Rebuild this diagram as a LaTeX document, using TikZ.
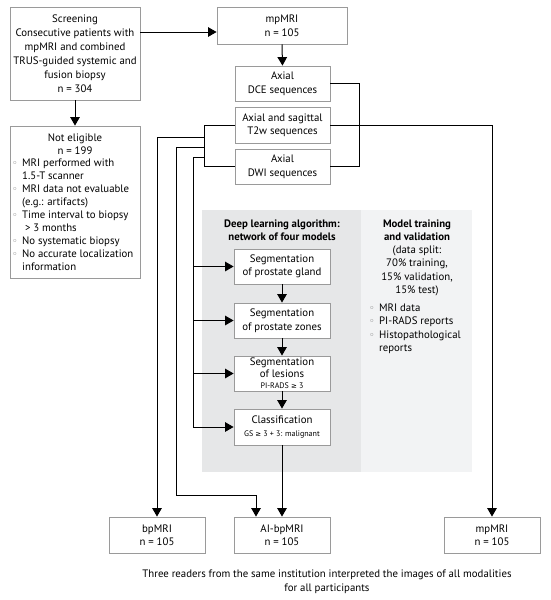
\documentclass[tikz,border=0pt]{standalone}
\usepackage{fontspec}
\setmainfont{PT Sans}
\newfontfamily\djf{DejaVu Sans}
\usetikzlibrary{arrows.meta}
\definecolor{boxgray}{HTML}{9A9A9A}
\definecolor{paneldark}{HTML}{E6E7E8}
\definecolor{panellight}{HTML}{F2F3F4}
\definecolor{bulgray}{HTML}{6E6E6E}
\newcommand\myfs{\fontsize{10.8}{13.5}\selectfont}
\newcommand\mysmall{\fontsize{8}{9}\selectfont}
\newcommand\bul{\makebox[10pt][l]{\textcolor{bulgray}{\djf\fontsize{9.5}{9}\selectfont ◦}}}
\newcommand\ind{\hspace*{10pt}}
\newcommand\mygeq{{\djf\fontsize{7}{9}\selectfont ≥}}
\begin{document}
\begin{tikzpicture}[x=1pt,y=-1pt,
  box/.style={draw=boxgray,line width=0.8pt,fill=white,align=center,inner sep=0pt,font=\myfs},
  txt/.style={align=center,inner sep=0pt,font=\myfs},
  conn/.style={draw=black,line width=1pt},
  arr/.style={-{Triangle[width=9.5pt,length=8.5pt]}}]
\useasboundingbox (0,0) rectangle (550,600);
% panels
\fill[paneldark] (202,210) rectangle (361,472);
\fill[panellight] (361,210) rectangle (472,472);
% top boxes
\node[box,minimum width=130pt,minimum height=93pt,font=\fontsize{10.8}{14}\selectfont] (scr) at (75,53.5)
  {Screening\\Consecutive patients with\\mpMRI and combined\\TRUS-guided systemic and\\fusion biopsy\\n = 304};
\node[box,minimum width=130pt,minimum height=37pt] (mp) at (282,25.5) {mpMRI\\n = 105};
\node[box,minimum width=95pt,minimum height=35pt] (dce) at (282.5,83.5) {Axial\\DCE sequences};
\node[box,minimum width=95pt,minimum height=36pt] (t2) at (282.5,125) {Axial and sagittal\\T2w sequences};
\node[box,minimum width=95pt,minimum height=35pt] (dwi) at (282.5,166.5) {Axial\\DWI sequences};
% not eligible
\node[box,minimum width=130pt,minimum height=152pt] (ne) at (75,202) {};
\node[txt] (net) at (75,144) {Not eligible\\n = 199};
\node[txt,anchor=north west,align=left,font=\fontsize{10.8}{13}\selectfont] (nel) at (12,158.5)
  {\bul MRI performed with\\\ind 1.5-T scanner\\\bul MRI data not evaluable\\\ind (e.g.: artifacts)\\
   \bul Time interval to biopsy\\\ind\ {>} 3 months\\\bul No systematic biopsy\\
   \bul No accurate localization\\\ind information};
% panel texts
\node[txt,font=\bfseries\myfs] (dlt) at (282,230) {Deep learning algorithm:\\network of four models};
\node[txt,font=\bfseries\myfs] (mtt) at (417,230) {Model training\\and validation};
\node[txt] (mts) at (417,271) {(data split:\\70\% training,\\15\% validation,\\15\% test)};
\node[txt,anchor=north west,align=left] (mtl) at (369,303.5)
  {\bul MRI data\\\bul PI-RADS reports\\\bul Histopathological\\\ind reports};
% model boxes
\node[box,minimum width=96pt,minimum height=35pt] (gl) at (282,266.5) {Segmentation\\of prostate gland};
\node[box,minimum width=96pt,minimum height=35pt] (zo) at (282,320.5) {Segmentation\\of prostate zones};
\node[box,minimum width=96pt,minimum height=35pt,font=\fontsize{10.8}{11.5}\selectfont] (le) at (282,373.5)
  {Segmentation\\of lesions\\{\mysmall PI-RADS \mygeq{} 3}};
\node[box,minimum width=96pt,minimum height=36pt] (cl) at (282,427) {Classification\\{\mysmall GS \mygeq{} 3 + 3: malignant}};
% bottom boxes
\node[box,minimum width=96pt,minimum height=36pt] (bp) at (157,535) {bpMRI\\n = 105};
\node[box,minimum width=96pt,minimum height=36pt] (ai) at (282,535) {AI-bpMRI\\n = 105};
\node[box,minimum width=96pt,minimum height=36pt] (mp2) at (492,535) {mpMRI\\n = 105};
\node[txt] (cap) at (327,581.5) {Three readers from the same institution interpreted the images of all modalities\\for all participants};
% connectors
\coordinate (mpin) at ([yshift=-6.5pt]mp.west);
\draw[conn,arr] (scr.east |- mpin) -- (mpin);
\draw[conn,arr] (mp.south) -- (dce.north);
\draw[conn,arr] (scr.south) -- (ne.north);
\draw[conn] (dce.east) -- ++(29,0) |- (dwi.east);
\draw[conn,arr] (t2.east) -| (mp2.north);
\draw[conn] (t2.west) -- ++(-30,0) coordinate (bl) |- (dwi.west);
\draw[conn,arr] (bl |- 0,137) -| (bp.north);
\coordinate (aiin) at ([xshift=-26pt]ai.north);
\draw[conn,arr] (bl |- 0,147) -- (176,147) -- (176,495) -| (aiin);
\draw[conn] (bl |- 0,157) -- (193,157) coordinate (v3) -- (v3 |- cl.west);
\draw[conn,arr] (v3 |- gl.west) -- (gl.west);
\draw[conn,arr] (v3 |- zo.west) -- (zo.west);
\draw[conn,arr] (v3 |- le.west) -- (le.west);
\draw[conn,arr] (v3 |- cl.west) -- (cl.west);
\draw[conn,arr] (gl) -- (zo);
\draw[conn,arr] (zo) -- (le);
\draw[conn,arr] (le) -- (cl);
\draw[conn,arr] (cl) -- (ai);
\end{tikzpicture}
\end{document}
